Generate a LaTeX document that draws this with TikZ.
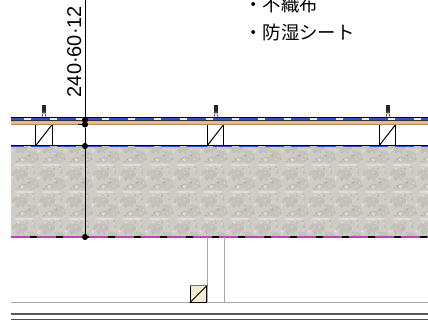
\documentclass[tikz,border=0pt]{standalone}
\usepackage{fontspec}
\setmainfont{Liberation Sans}
\newfontfamily\jpfont{Noto Sans CJK JP}
\definecolor{stonebase}{HTML}{CFCCC6}
\definecolor{stonedark}{HTML}{8F8D88}
\definecolor{stonelight}{HTML}{EEEBE4}
\definecolor{woodtan}{HTML}{E8B889}
\definecolor{wooddark}{HTML}{B98A5E}
\definecolor{sheetblue}{HTML}{2F50D8}
\definecolor{sheetcream}{HTML}{F5EBD0}
\definecolor{sheetmag}{HTML}{C040C0}
\definecolor{boxbeige}{HTML}{F2EBD2}
\definecolor{linegray}{HTML}{A8A8A8}
\tikzset{
  x=0.75pt,y=-0.75pt,
  dotnode/.style={circle,fill=black,inner sep=0pt,minimum size=4.6pt},
  postbox/.style={draw=black,line width=0.75pt,fill=white,minimum width=12.7pt,minimum height=16.5pt,inner sep=0pt},
  jptext/.style={font=\jpfont\fontsize{13.8}{16}\selectfont,anchor=west,inner sep=0pt},
  dimtext/.style={font=\fontsize{15}{16}\selectfont,rotate=90,anchor=base west,inner sep=0pt},
  graythin/.style={draw=linegray,line width=0.75pt},
}
\newcommand{\clipmark}[1]{%
  \fill[black!85] (#1-1.6,105)--(#1+1.6,105)--(#1+1.6,113)--(#1-1.6,113)--cycle;
  \draw[black!60,line width=0.6pt] (#1-2.2,117.5)--(#1-.5,112)--(#1+.5,112)--(#1+2.2,117.5);
}
\begin{document}
\begin{tikzpicture}
\useasboundingbox (0,0) rectangle (428,320);
\fill[white] (0,0) rectangle (428,320);
% stone texture
\fill[stonebase] (11,146) rectangle (428,237);
\begin{scope}
\clip (11,146) rectangle (428,237);
\foreach \ty in {0,1,2,3} {
 \foreach \tx in {0,...,15} {
  \pgfmathsetseed{23}
  \pgfmathsetmacro{\ox}{11+\tx*27}
  \pgfmathsetmacro{\oy}{146+\ty*27-6}
  \fill[stonedark,opacity=.16] (\ox+9,\oy+7) ellipse [x radius=8,y radius=5];
  \fill[stonedark,opacity=.14] (\ox+21,\oy+17) ellipse [x radius=6,y radius=6];
  \fill[stonelight,opacity=.55] (\ox+13,\oy+25) ellipse [x radius=10,y radius=1.2];
  \draw[stonedark,opacity=.4,line width=.5pt] (\ox+8,\oy+20)--(\ox+11,\oy+17)--(\ox+15,\oy+18)--(\ox+15,\oy+21)--(\ox+10,\oy+22)--cycle;
  \fill[stonelight,opacity=.6] (\ox+11.5,\oy+19.5) ellipse [x radius=2,y radius=.9];
  \foreach \k in {1,...,22} {
    \pgfmathsetmacro{\ra}{rnd*27}\pgfmathsetmacro{\rb}{rnd*27}\pgfmathsetmacro{\rc}{.5+rnd*.8}
    \fill[stonelight,opacity=.5] (\ox+\ra,\oy+\rb) circle [radius=\rc];
    \pgfmathsetmacro{\ra}{rnd*27}\pgfmathsetmacro{\rb}{rnd*27}\pgfmathsetmacro{\rc}{.5+rnd*.8}
    \fill[stonedark,opacity=.3] (\ox+\ra,\oy+\rb) circle [radius=\rc];
  }
 }
}
\end{scope}
% posts
\foreach \n/\cx in {pa/44,pb/215.5,pc/387.5} {
  \node[postbox] (\n) at (\cx,135) {};
  \draw[black,line width=0.75pt] (\n.south west)--(\n.north east);
}
% roof sheet and wood band
\fill[woodtan] (11,120) rectangle (428,124);
\fill[wooddark] (11,124) rectangle (428,125.3);
\fill[sheetcream] (11,118) rectangle (428,120);
\draw[sheetblue,line width=1.3pt,dash pattern=on 14.25pt off 5.25pt,dash phase=4.5pt] (11,119)--(428,119);
\draw[black,line width=0.75pt] (11,117.8)--(428,117.8);
\draw[black!80,line width=0.3pt] (11,120)--(428,120);
% stone top and bottom edges
\draw[black,line width=0.75pt] (11,146)--(428,146);
\draw[sheetblue,line width=1pt,dash pattern=on 14.25pt off 5.25pt,dash phase=4.5pt] (11,146.8)--(428,146.8);
\draw[black,line width=0.9pt] (11,237)--(428,237);
\draw[sheetmag,line width=0.9pt,dash pattern=on 14.25pt off 5.25pt] (11,237)--(428,237);
\clipmark{44}\clipmark{216}\clipmark{388}
% lower gray lines
\coordinate (ga) at (207,237);\coordinate (gb) at (207,302);
\coordinate (gc) at (224,237);\coordinate (gd) at (224,302);
\draw[graythin] (ga)--(gb);
\draw[graythin] (gc)--(gd);
\coordinate (ha) at (11,302);\coordinate (hb) at (428,302);
\draw[graythin] (ha)--(hb);
\coordinate (ia) at (11,314);\coordinate (ib) at (428,314);
\draw[black!65,line width=1pt] (ia)--(ib);
\coordinate (ja) at (11,319);\coordinate (jb) at (428,319);
\draw[black!70,line width=0.6pt] (ja)--(jb);
% small beige box
\node[draw=black,line width=0.75pt,fill=boxbeige,minimum width=12.5pt,minimum height=12.5pt,inner sep=0pt] (bb) at (198.5,294) {};
\draw[black,line width=0.75pt] (bb.south west)--(bb.north east);
\draw[black!55,line width=1pt] (bb.north west)--(bb.north east);
% dimension line
\coordinate (dtop) at (85,-2);
\node[dotnode] (d1) at (85,120) {};
\node[dotnode] (d2) at (85,124.5) {};
\node[dotnode] (d3) at (85,146) {};
\node[dotnode] (d4) at (85,237) {};
\draw[black,line width=0.75pt] (dtop)--(d1)--(d2)--(d3)--(d4);
\draw[black,line width=1.4pt] (78,124.5)--(d2);
\node[dimtext] (dl) at (81,97.5) {240·60·12};
% notes
\node[jptext] (n1) at (244,4.5) {・不織布};
\node[jptext] (n2) at (244,33) {・防湿シート};
\end{tikzpicture}
\end{document}
